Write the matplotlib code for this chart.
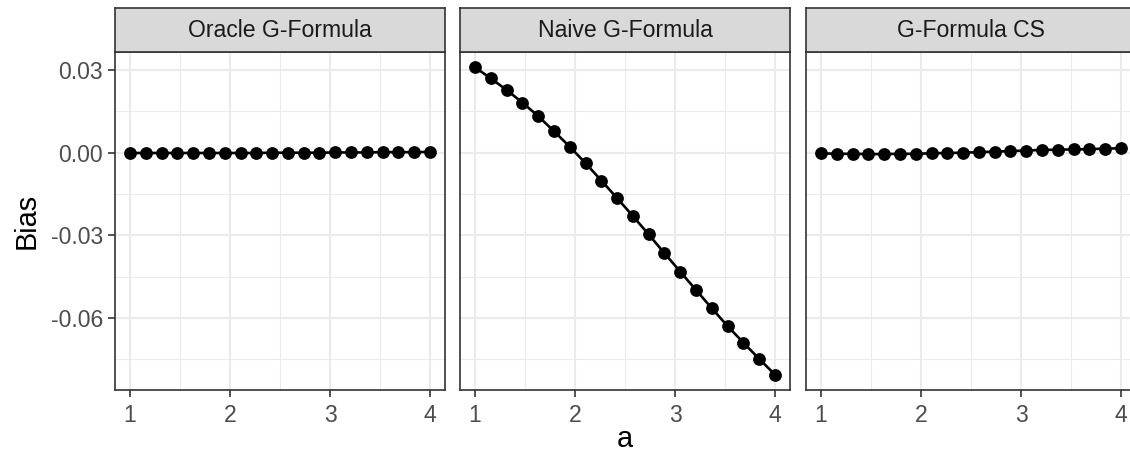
import numpy as np
import matplotlib
matplotlib.use("Agg")
import matplotlib.pyplot as plt
from matplotlib.ticker import FixedLocator

plt.rcParams['font.family'] = ['Liberation Sans', 'DejaVu Sans']

a_values = [1 + 3 * i / 19 for i in range(20)]
panel_titles = ["Oracle G-Formula", "Naive G-Formula", "G-Formula CS"]
bias_oracle = [-0.0001, -0.0001, -0.0001, -0.0001, -0.0001, -0.0001, -0.0001, -0.0001, -0.0001, 0.0000,
               0.0000, 0.0000, 0.0000, 0.0001, 0.0001, 0.0001, 0.0002, 0.0002, 0.0002, 0.0003]
bias_naive = [0.0310, 0.0270, 0.0228, 0.0182, 0.0133, 0.0078, 0.0022, -0.0038, -0.0101, -0.0165,
              -0.0230, -0.0297, -0.0365, -0.0432, -0.0499, -0.0565, -0.0630, -0.0690, -0.0749, -0.0806]
bias_cs = [-0.0002, -0.0004, -0.0004, -0.0005, -0.0005, -0.0004, -0.0004, -0.0002, -0.0001, 0.0000,
           0.0002, 0.0004, 0.0006, 0.0008, 0.0010, 0.0011, 0.0012, 0.0013, 0.0015, 0.0016]
series = [bias_oracle, bias_naive, bias_cs]
y_ticks = [0.03, 0.00, -0.03, -0.06]
y_tick_labels = ["0.03", "0.00", "-0.03", "-0.06"]
x_ticks = [1, 2, 3, 4]

W, H = 1130, 455
fig = plt.figure(figsize=(W / 100, H / 100), dpi=100)

lefts = [115, 460, 806]
pw = 330
top, bottom = 52, 390
strip_top = 8

allv = np.concatenate([np.array(s) for s in series])
ymin, ymax = allv.min(), allv.max()
yr = ymax - ymin
ylim = (ymin - 0.05 * yr, ymax + 0.05 * yr)

grid_col = "#EBEBEB"
dark = "#333333"
txt = "#4D4D4D"

for i, (l, title, vals) in enumerate(zip(lefts, panel_titles, series)):
    ax = fig.add_axes([l / W, (H - bottom) / H, pw / W, (bottom - top) / H])
    ax.set_xlim(1 - 0.15, 4 + 0.15)
    ax.set_ylim(*ylim)
    ax.xaxis.set_major_locator(FixedLocator(x_ticks))
    ax.xaxis.set_minor_locator(FixedLocator([1.5, 2.5, 3.5]))
    ax.yaxis.set_major_locator(FixedLocator(y_ticks))
    ax.yaxis.set_minor_locator(FixedLocator([0.015, -0.015, -0.045, -0.075]))
    ax.grid(which="major", color=grid_col, linewidth=1.5)
    ax.grid(which="minor", color=grid_col, linewidth=0.75)
    ax.set_axisbelow(True)
    for sp in ax.spines.values():
        sp.set_color(dark)
        sp.set_linewidth(1.2)
    ax.tick_params(which="minor", length=0)
    ax.tick_params(which="major", length=5.2, width=1.2, color=dark,
                   labelcolor=txt, labelsize=16.6, pad=3.5)
    ax.tick_params(axis="x", which="major", pad=5)
    ax.set_xticklabels([str(t) for t in x_ticks])
    if i == 0:
        ax.set_yticklabels(y_tick_labels)
        ax.set_ylabel("Bias", fontsize=20.8)
        ax.yaxis.set_label_coords(-0.225, 0.5)
    else:
        ax.tick_params(axis="y", which="major", length=0, labelleft=False)
    if i == 1:
        ax.set_xlabel("a", fontsize=20.8)
        ax.xaxis.set_label_coords(0.5, -0.105)
    ax.plot(a_values, vals, color="black", linewidth=1.9, zorder=3)
    ax.plot(a_values, vals, "o", color="black", markersize=9.2, markeredgewidth=0, zorder=4)

    sax = fig.add_axes([l / W, (H - top) / H, pw / W, (top - strip_top) / H])
    sax.set_facecolor("#D9D9D9")
    sax.set_xticks([])
    sax.set_yticks([])
    for sp in sax.spines.values():
        sp.set_color(dark)
        sp.set_linewidth(1.2)
    sax.text(0.5, 0.48, title, ha="center", va="center", fontsize=16.6,
             color="#1A1A1A", transform=sax.transAxes)

fig.savefig("out.png", dpi=100, facecolor="white")
